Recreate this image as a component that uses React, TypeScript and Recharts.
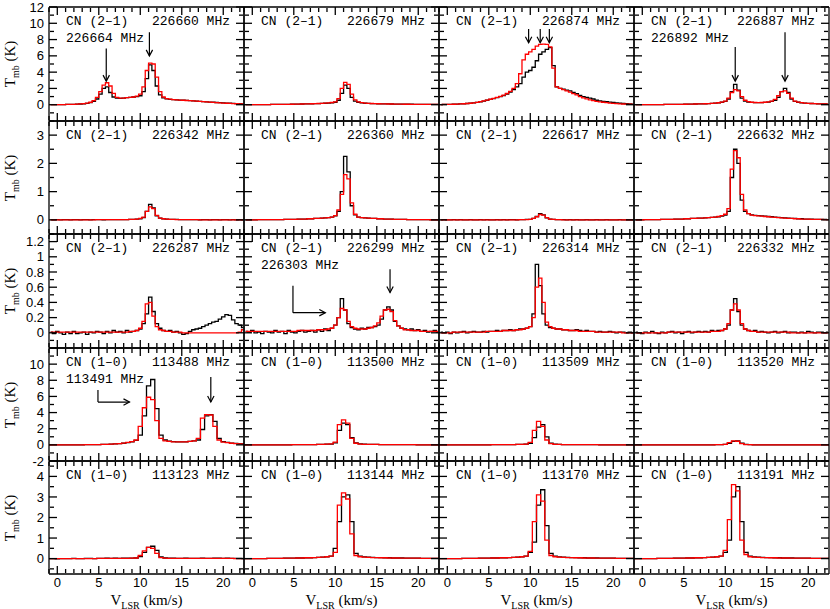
import React from 'react';
import { LineChart, Line, XAxis, YAxis, ReferenceLine } from 'recharts';

// velocity channels (km/s)
const V21 = [-0.8, -0.4, 0, 0.4, 0.8, 1.2, 1.6, 2, 2.4, 2.8, 3.2, 3.6, 4, 4.4, 4.8, 5.2, 5.6, 6, 6.4, 6.8, 7.2, 7.6, 8, 8.4, 8.8, 9.2, 9.6, 10, 10.4, 10.8, 11.2, 11.6, 12, 12.4, 12.8, 13.2, 13.6, 14, 14.4, 14.8, 15.2, 15.6, 16, 16.4, 16.8, 17.2, 17.6, 18, 18.4, 18.8, 19.2, 19.6, 20, 20.4, 20.8, 21.2, 21.6, 22, 22.4];
const V10 = [-1, -0.5, 0, 0.5, 1, 1.5, 2, 2.5, 3, 3.5, 4, 4.5, 5, 5.5, 6, 6.5, 7, 7.5, 8, 8.5, 9, 9.5, 10, 10.5, 11, 11.5, 12, 12.5, 13, 13.5, 14, 14.5, 15, 15.5, 16, 16.5, 17, 17.5, 18, 18.5, 19, 19.5, 20, 20.5, 21, 21.5, 22, 22.5];

// row 1
const P11_OBS = [0, 0, 0.01, 0.02, 0.02, 0.03, 0.04, 0.05, 0.07, 0.09, 0.12, 0.17, 0.25, 0.4, 0.7, 1.3, 2.0, 2.2, 1.5, 0.95, 0.8, 0.78, 0.82, 0.86, 0.9, 0.95, 1.0, 1.1, 1.6, 3.2, 4.9, 4.2, 2.3, 1.2, 0.85, 0.72, 0.66, 0.62, 0.6, 0.57, 0.55, 0.53, 0.5, 0.47, 0.44, 0.41, 0.38, 0.35, 0.32, 0.3, 0.27, 0.25, 0.22, 0.2, 0.18, 0.16, 0.14, 0.12, 0.1];
const P11_MOD = [0, 0, 0.01, 0.02, 0.02, 0.03, 0.04, 0.05, 0.07, 0.1, 0.14, 0.2, 0.3, 0.5, 0.9, 1.6, 2.4, 2.7, 2.3, 1.4, 0.9, 0.8, 0.82, 0.86, 0.9, 0.95, 1.05, 1.3, 2.2, 4.2, 5.1, 5.0, 3.4, 1.6, 0.95, 0.75, 0.68, 0.63, 0.6, 0.57, 0.55, 0.52, 0.49, 0.46, 0.43, 0.4, 0.37, 0.34, 0.31, 0.28, 0.25, 0.23, 0.2, 0.18, 0.16, 0.14, 0.12, 0.1, 0.09];
const P12_OBS = [0, 0, 0, 0.01, 0.01, 0.01, 0.02, 0.02, 0.03, 0.03, 0.04, 0.04, 0.05, 0.05, 0.06, 0.07, 0.08, 0.09, 0.1, 0.11, 0.12, 0.13, 0.14, 0.16, 0.18, 0.2, 0.24, 0.3, 0.55, 1.4, 2.4, 2.0, 0.9, 0.45, 0.3, 0.22, 0.18, 0.16, 0.14, 0.13, 0.12, 0.11, 0.1, 0.1, 0.09, 0.08, 0.08, 0.07, 0.07, 0.06, 0.06, 0.05, 0.05, 0.05, 0.04, 0.04, 0.04, 0.03, 0.03];
const P12_MOD = [0, 0, 0, 0.01, 0.01, 0.01, 0.02, 0.02, 0.03, 0.03, 0.04, 0.04, 0.05, 0.05, 0.06, 0.07, 0.08, 0.09, 0.1, 0.11, 0.12, 0.13, 0.15, 0.17, 0.19, 0.22, 0.27, 0.36, 0.75, 2.0, 2.75, 2.5, 1.3, 0.6, 0.35, 0.25, 0.2, 0.17, 0.15, 0.13, 0.12, 0.11, 0.1, 0.09, 0.09, 0.08, 0.07, 0.07, 0.06, 0.06, 0.05, 0.05, 0.05, 0.04, 0.04, 0.04, 0.03, 0.03, 0.03];
const P13_OBS = [0.02, 0.03, 0.04, 0.05, 0.06, 0.08, 0.1, 0.12, 0.15, 0.18, 0.22, 0.28, 0.36, 0.45, 0.55, 0.65, 0.75, 0.88, 1.0, 1.12, 1.3, 1.55, 1.85, 2.2, 2.6, 3.4, 4.0, 4.2, 4.6, 5.4, 6.2, 6.5, 6.8, 7.0, 4.8, 2.2, 2.0, 1.9, 1.8, 1.7, 1.5, 1.35, 1.15, 1.0, 0.9, 0.8, 0.7, 0.55, 0.48, 0.42, 0.37, 0.32, 0.27, 0.22, 0.18, 0.15, 0.12, 0.1, 0.08];
const P13_MOD = [0.02, 0.03, 0.04, 0.05, 0.06, 0.08, 0.1, 0.12, 0.15, 0.18, 0.23, 0.29, 0.37, 0.46, 0.56, 0.67, 0.78, 0.9, 1.03, 1.18, 1.38, 1.65, 2.0, 2.6, 3.8, 5.5, 6.2, 6.5, 6.8, 7.2, 7.4, 7.45, 7.4, 7.1, 4.5, 2.2, 2.0, 1.85, 1.7, 1.55, 1.35, 1.2, 1.0, 0.85, 0.72, 0.6, 0.5, 0.42, 0.35, 0.3, 0.25, 0.2, 0.17, 0.14, 0.11, 0.09, 0.07, 0.06, 0.05];
const P14_OBS = [0, 0, 0, 0.01, 0.01, 0.01, 0.02, 0.02, 0.02, 0.03, 0.03, 0.04, 0.04, 0.05, 0.05, 0.06, 0.07, 0.08, 0.09, 0.1, 0.11, 0.12, 0.14, 0.16, 0.19, 0.23, 0.3, 0.4, 0.7, 1.6, 2.5, 1.8, 0.8, 0.45, 0.33, 0.28, 0.26, 0.25, 0.26, 0.28, 0.32, 0.4, 0.55, 0.9, 1.6, 2.0, 1.5, 0.7, 0.4, 0.3, 0.24, 0.2, 0.17, 0.15, 0.13, 0.11, 0.1, 0.09, 0.08];
const P14_MOD = [0, 0, 0, 0.01, 0.01, 0.01, 0.02, 0.02, 0.02, 0.03, 0.03, 0.04, 0.04, 0.05, 0.05, 0.06, 0.07, 0.08, 0.09, 0.1, 0.11, 0.12, 0.14, 0.16, 0.19, 0.24, 0.32, 0.45, 0.8, 1.5, 1.85, 1.7, 1.0, 0.55, 0.38, 0.3, 0.27, 0.26, 0.27, 0.3, 0.35, 0.45, 0.65, 1.1, 1.6, 1.7, 1.4, 0.8, 0.45, 0.32, 0.25, 0.2, 0.17, 0.15, 0.13, 0.11, 0.1, 0.09, 0.08];

// row 2
const P21_OBS = [0.01, 0, 0.01, 0, 0.01, 0.01, 0, 0.01, 0.01, 0, 0.01, 0.01, 0, 0.01, 0.01, 0.01, 0, 0.01, 0.01, 0.01, 0.01, 0.01, 0.01, 0.01, 0.02, 0.02, 0.03, 0.04, 0.08, 0.3, 0.55, 0.42, 0.14, 0.06, 0.04, 0.03, 0.02, 0.02, 0.02, 0.01, 0.01, 0.01, 0.01, 0.01, 0.01, 0, 0.01, 0.01, 0, 0.01, 0.01, 0, 0.01, 0.01, 0, 0.01, 0, 0.01, 0];
const P21_MOD = [0, 0, 0, 0, 0, 0, 0, 0, 0, 0, 0, 0, 0, 0, 0.01, 0.01, 0.01, 0.01, 0.01, 0.01, 0.01, 0.01, 0.01, 0.01, 0.02, 0.02, 0.03, 0.05, 0.1, 0.3, 0.46, 0.4, 0.16, 0.06, 0.04, 0.03, 0.02, 0.02, 0.01, 0.01, 0.01, 0.01, 0.01, 0.01, 0.01, 0, 0, 0, 0, 0, 0, 0, 0, 0, 0, 0, 0, 0, 0];
const P22_OBS = [0, 0, 0, 0, 0.01, 0.01, 0.01, 0.01, 0.01, 0.01, 0.01, 0.01, 0.02, 0.02, 0.02, 0.02, 0.03, 0.03, 0.03, 0.04, 0.04, 0.05, 0.05, 0.06, 0.07, 0.08, 0.1, 0.14, 0.3, 1.0, 2.25, 1.7, 0.5, 0.18, 0.1, 0.08, 0.07, 0.06, 0.05, 0.05, 0.04, 0.04, 0.03, 0.03, 0.03, 0.02, 0.02, 0.02, 0.02, 0.01, 0.01, 0.01, 0.01, 0.01, 0.01, 0.01, 0, 0, 0];
const P22_MOD = [0, 0, 0, 0, 0.01, 0.01, 0.01, 0.01, 0.01, 0.01, 0.01, 0.01, 0.02, 0.02, 0.02, 0.02, 0.03, 0.03, 0.03, 0.04, 0.04, 0.05, 0.05, 0.06, 0.07, 0.08, 0.1, 0.15, 0.35, 0.9, 1.6, 1.45, 0.6, 0.2, 0.1, 0.08, 0.07, 0.06, 0.05, 0.05, 0.04, 0.04, 0.03, 0.03, 0.03, 0.02, 0.02, 0.02, 0.02, 0.01, 0.01, 0.01, 0.01, 0.01, 0.01, 0.01, 0, 0, 0];
const P23_OBS = [0, 0.01, 0, 0, 0.01, 0, 0.01, 0, 0, 0.01, 0, 0, 0.01, 0, 0.01, 0, 0, 0.01, 0, 0.01, 0, 0.01, 0.01, 0, 0.01, 0.01, 0.02, 0.02, 0.05, 0.12, 0.22, 0.18, 0.07, 0.03, 0.02, 0.01, 0.01, 0.01, 0, 0.01, 0, 0.01, 0, 0, 0.01, 0, 0, 0.01, 0, 0, 0.01, 0, 0, 0, 0.01, 0, 0, 0, 0];
const P23_MOD = [0, 0, 0, 0, 0, 0, 0, 0, 0, 0, 0, 0, 0, 0, 0, 0, 0, 0, 0, 0, 0, 0, 0, 0, 0.01, 0.01, 0.01, 0.02, 0.05, 0.11, 0.19, 0.17, 0.08, 0.03, 0.02, 0.01, 0.01, 0, 0, 0, 0, 0, 0, 0, 0, 0, 0, 0, 0, 0, 0, 0, 0, 0, 0, 0, 0, 0, 0];
const P24_OBS = [0, 0, 0, 0.01, 0.01, 0.01, 0.01, 0.01, 0.02, 0.02, 0.02, 0.02, 0.03, 0.03, 0.03, 0.04, 0.04, 0.05, 0.05, 0.06, 0.06, 0.07, 0.08, 0.09, 0.1, 0.11, 0.13, 0.17, 0.3, 1.5, 2.5, 2.0, 0.7, 0.3, 0.22, 0.18, 0.16, 0.15, 0.14, 0.13, 0.12, 0.11, 0.1, 0.09, 0.08, 0.07, 0.06, 0.05, 0.05, 0.04, 0.04, 0.03, 0.03, 0.03, 0.02, 0.02, 0.02, 0.02, 0.01];
const P24_MOD = [0, 0, 0, 0.01, 0.01, 0.01, 0.01, 0.01, 0.02, 0.02, 0.02, 0.02, 0.03, 0.03, 0.03, 0.04, 0.04, 0.05, 0.05, 0.06, 0.06, 0.07, 0.08, 0.09, 0.1, 0.12, 0.15, 0.2, 0.4, 1.8, 2.45, 2.2, 0.9, 0.35, 0.22, 0.17, 0.15, 0.14, 0.13, 0.12, 0.11, 0.1, 0.09, 0.08, 0.07, 0.06, 0.05, 0.05, 0.04, 0.04, 0.03, 0.03, 0.03, 0.02, 0.02, 0.02, 0.02, 0.01, 0.01];

// row 3
const P31_OBS = [0.01, -0.01, 0.02, 0, -0.02, 0.01, -0.01, 0.02, -0.01, 0, 0.01, -0.02, 0.01, 0, 0.02, 0.01, -0.01, 0.02, 0, 0.03, 0.01, 0.02, 0, 0.03, 0.01, 0.02, 0.03, 0.05, 0.12, 0.25, 0.47, 0.28, 0.12, 0.06, 0.03, 0.02, 0.03, 0.01, 0.02, 0, -0.02, -0.01, 0.02, 0.04, 0.05, 0.06, 0.08, 0.1, 0.12, 0.14, 0.15, 0.18, 0.21, 0.24, 0.23, 0.17, 0.12, 0.1, 0.07];
const P31_MOD = [0.01, 0.01, 0.01, 0.01, 0.01, 0.01, 0.01, 0.01, 0.01, 0.01, 0.01, 0.01, 0.01, 0.01, 0.01, 0.01, 0.01, 0.01, 0.01, 0.01, 0.01, 0.01, 0.01, 0.01, 0.02, 0.02, 0.03, 0.06, 0.15, 0.38, 0.4, 0.22, 0.08, 0.04, 0.03, 0.02, 0.02, 0.01, 0.01, 0.01, 0, 0, 0, 0, 0, 0, 0, 0, 0, 0, 0, 0, 0, 0, 0, 0, 0, 0.01, 0.04];
const P32_OBS = [0.02, 0.01, 0.03, 0, 0.01, -0.01, 0.02, 0.01, 0, 0.03, 0.01, 0.02, -0.01, 0.03, 0.01, 0, 0.02, 0.03, 0.01, 0.02, 0.03, 0.01, 0.04, 0.02, 0.05, 0.03, 0.06, 0.1, 0.2, 0.45, 0.3, 0.12, 0.07, 0.05, 0.04, 0.06, 0.05, 0.07, 0.07, 0.08, 0.1, 0.18, 0.3, 0.34, 0.3, 0.15, 0.09, 0.06, 0.05, 0.04, 0.05, 0.03, 0.04, 0.02, 0.03, 0.01, 0.02, 0.03, 0.01];
const P32_MOD = [0.02, 0.02, 0.02, 0.02, 0.02, 0.02, 0.02, 0.02, 0.02, 0.02, 0.02, 0.02, 0.02, 0.02, 0.02, 0.02, 0.03, 0.03, 0.03, 0.03, 0.03, 0.03, 0.04, 0.04, 0.04, 0.05, 0.06, 0.1, 0.2, 0.32, 0.3, 0.15, 0.08, 0.06, 0.05, 0.05, 0.05, 0.06, 0.07, 0.09, 0.13, 0.22, 0.3, 0.31, 0.28, 0.16, 0.09, 0.06, 0.04, 0.04, 0.03, 0.03, 0.03, 0.02, 0.02, 0.02, 0.02, 0.02, 0.02];
const P33_OBS = [0.01, 0, 0.01, -0.01, 0.01, 0, 0.01, 0.02, 0, 0.01, 0.02, 0.01, 0.01, 0.02, 0.01, 0.02, 0.02, 0.03, 0.02, 0.03, 0.03, 0.04, 0.03, 0.04, 0.05, 0.05, 0.06, 0.08, 0.25, 0.9, 0.62, 0.25, 0.1, 0.07, 0.06, 0.05, 0.05, 0.04, 0.04, 0.03, 0.03, 0.04, 0.03, 0.02, 0.03, 0.02, 0.02, 0.01, 0.02, 0.01, 0.01, 0.02, 0.01, 0, 0.01, 0.01, 0, 0.01, 0];
const P33_MOD = [0, 0, 0, 0, 0.01, 0.01, 0.01, 0.01, 0.01, 0.01, 0.01, 0.01, 0.01, 0.01, 0.02, 0.02, 0.02, 0.02, 0.02, 0.03, 0.03, 0.03, 0.03, 0.04, 0.04, 0.05, 0.06, 0.08, 0.2, 0.6, 0.72, 0.4, 0.14, 0.08, 0.06, 0.05, 0.05, 0.04, 0.04, 0.03, 0.03, 0.03, 0.02, 0.02, 0.02, 0.02, 0.02, 0.01, 0.01, 0.01, 0.01, 0.01, 0.01, 0.01, 0.01, 0, 0, 0, 0];
const P34_OBS = [0.01, 0, -0.01, 0.01, 0, 0.02, 0, -0.01, 0.01, 0, 0.01, 0.02, 0, 0.01, -0.01, 0.01, 0.02, 0, 0.01, 0.02, 0.01, 0.02, 0.01, 0.03, 0.02, 0.03, 0.03, 0.05, 0.1, 0.3, 0.45, 0.28, 0.1, 0.05, 0.03, 0.02, 0.03, 0.01, 0.02, 0.01, 0, 0.01, 0.02, 0, 0.01, 0.02, 0, 0.01, 0.01, 0, 0.01, 0, 0.02, 0.01, 0, 0.01, 0.01, 0, 0.01];
const P34_MOD = [0, 0, 0, 0, 0, 0, 0, 0, 0, 0, 0.01, 0.01, 0.01, 0.01, 0.01, 0.01, 0.01, 0.01, 0.01, 0.01, 0.01, 0.01, 0.01, 0.02, 0.02, 0.02, 0.03, 0.05, 0.12, 0.3, 0.38, 0.3, 0.12, 0.05, 0.03, 0.02, 0.02, 0.01, 0.01, 0.01, 0.01, 0.01, 0.01, 0.01, 0.01, 0.01, 0.01, 0, 0, 0, 0, 0, 0, 0, 0, 0, 0, 0, 0];

// row 4
const P41_OBS = [0, 0, 0, 0, 0, 0, 0.01, 0.01, 0.01, 0.02, 0.02, 0.03, 0.04, 0.05, 0.07, 0.09, 0.12, 0.16, 0.2, 0.28, 0.38, 0.55, 1.2, 3.6, 7.3, 8.1, 4.5, 1.2, 0.6, 0.45, 0.4, 0.38, 0.37, 0.38, 0.42, 0.5, 0.6, 1.9, 3.6, 3.75, 2.9, 0.8, 0.4, 0.3, 0.22, 0.18, 0.15, 0.12];
const P41_MOD = [0, 0, 0, 0, 0, 0, 0.01, 0.01, 0.01, 0.02, 0.02, 0.03, 0.04, 0.05, 0.07, 0.09, 0.12, 0.16, 0.22, 0.3, 0.4, 0.6, 2.3, 4.6, 5.9, 5.6, 3.0, 0.8, 0.5, 0.42, 0.38, 0.36, 0.36, 0.38, 0.42, 0.5, 0.8, 3.3, 3.75, 3.7, 2.3, 0.6, 0.35, 0.28, 0.2, 0.16, 0.13, 0.1];
const P42_OBS = [0, 0, 0, 0, 0, 0, 0, 0.01, 0.01, 0.01, 0.01, 0.01, 0.02, 0.02, 0.02, 0.03, 0.03, 0.04, 0.05, 0.06, 0.08, 0.1, 0.25, 1.8, 2.7, 2.5, 0.9, 0.25, 0.12, 0.08, 0.06, 0.05, 0.05, 0.04, 0.04, 0.03, 0.03, 0.03, 0.02, 0.02, 0.02, 0.02, 0.01, 0.01, 0.01, 0.01, 0.01, 0.01];
const P42_MOD = [0, 0, 0, 0, 0, 0, 0, 0.01, 0.01, 0.01, 0.01, 0.01, 0.02, 0.02, 0.02, 0.03, 0.03, 0.04, 0.05, 0.06, 0.08, 0.12, 0.35, 2.5, 3.1, 2.7, 0.8, 0.2, 0.1, 0.07, 0.06, 0.05, 0.05, 0.04, 0.04, 0.03, 0.03, 0.03, 0.02, 0.02, 0.02, 0.02, 0.01, 0.01, 0.01, 0.01, 0.01, 0.01];
const P43_OBS = [0, 0, 0, 0, 0, 0, 0, 0, 0.01, 0.01, 0.01, 0.01, 0.01, 0.02, 0.02, 0.02, 0.03, 0.03, 0.04, 0.05, 0.06, 0.08, 0.2, 0.9, 2.2, 2.5, 1.0, 0.2, 0.08, 0.05, 0.04, 0.04, 0.03, 0.03, 0.03, 0.02, 0.02, 0.02, 0.02, 0.01, 0.01, 0.01, 0.01, 0.01, 0.01, 0, 0, 0];
const P43_MOD = [0, 0, 0, 0, 0, 0, 0, 0, 0.01, 0.01, 0.01, 0.01, 0.01, 0.02, 0.02, 0.02, 0.03, 0.03, 0.04, 0.05, 0.06, 0.09, 0.3, 1.8, 2.9, 2.3, 0.6, 0.15, 0.07, 0.05, 0.04, 0.04, 0.03, 0.03, 0.03, 0.02, 0.02, 0.02, 0.02, 0.01, 0.01, 0.01, 0.01, 0.01, 0.01, 0, 0, 0];
const P44_OBS = [0, 0, 0, 0, 0, 0, 0, 0, 0, 0, 0, 0, 0, 0, 0, 0, 0.01, 0.01, 0.01, 0.01, 0.02, 0.02, 0.05, 0.2, 0.42, 0.5, 0.22, 0.05, 0.02, 0.01, 0.01, 0.01, 0.01, 0, 0, 0, 0, 0, 0, 0, 0, 0, 0, 0, 0, 0, 0, 0];
const P44_MOD = [0, 0, 0, 0, 0, 0, 0, 0, 0, 0, 0, 0, 0, 0, 0, 0, 0.01, 0.01, 0.01, 0.01, 0.02, 0.02, 0.06, 0.28, 0.5, 0.45, 0.15, 0.04, 0.02, 0.01, 0.01, 0.01, 0.01, 0, 0, 0, 0, 0, 0, 0, 0, 0, 0, 0, 0, 0, 0, 0];

// row 5
const P51_OBS = [0, 0, -0.01, 0, 0, 0, 0.01, 0, 0, 0.01, 0.01, 0, 0.01, 0.01, 0.02, 0.01, 0.02, 0.01, 0.02, 0.02, 0.02, 0.03, 0.1, 0.3, 0.55, 0.6, 0.4, 0.08, 0.03, 0.02, 0.02, 0.01, 0.01, 0.02, 0.01, 0.01, 0.01, 0.02, 0.01, 0.01, 0.02, 0.02, 0.01, 0.02, 0.01, 0.01, 0.01, 0];
const P51_MOD = [0, 0, 0, 0, 0, 0, 0, 0, 0, 0, 0, 0, 0.01, 0.01, 0.01, 0.01, 0.01, 0.01, 0.01, 0.01, 0.02, 0.03, 0.15, 0.38, 0.55, 0.5, 0.25, 0.05, 0.02, 0.01, 0.01, 0.01, 0.01, 0.01, 0.01, 0.01, 0.01, 0.01, 0.01, 0.01, 0.01, 0.01, 0.01, 0.01, 0.01, 0, 0, 0];
const P52_OBS = [0, 0, 0, 0, 0, 0, 0.01, 0.01, 0.01, 0.01, 0.02, 0.02, 0.02, 0.03, 0.03, 0.04, 0.04, 0.05, 0.06, 0.07, 0.09, 0.12, 0.5, 1.8, 3.0, 3.1, 1.8, 0.25, 0.12, 0.08, 0.07, 0.06, 0.05, 0.05, 0.04, 0.04, 0.03, 0.03, 0.03, 0.02, 0.02, 0.02, 0.02, 0.01, 0.01, 0.01, 0.01, 0.01];
const P52_MOD = [0, 0, 0, 0, 0, 0, 0.01, 0.01, 0.01, 0.01, 0.02, 0.02, 0.02, 0.03, 0.03, 0.04, 0.04, 0.05, 0.06, 0.07, 0.09, 0.12, 0.3, 2.6, 3.2, 2.9, 1.2, 0.15, 0.09, 0.07, 0.06, 0.05, 0.05, 0.04, 0.04, 0.03, 0.03, 0.03, 0.02, 0.02, 0.02, 0.02, 0.02, 0.01, 0.01, 0.01, 0.01, 0.01];
const P53_OBS = [0, 0, 0, 0, 0, 0, 0.01, 0.01, 0.01, 0.01, 0.02, 0.02, 0.02, 0.03, 0.03, 0.04, 0.04, 0.05, 0.06, 0.07, 0.09, 0.12, 0.3, 0.8, 2.6, 3.35, 1.6, 0.25, 0.12, 0.08, 0.07, 0.06, 0.05, 0.05, 0.04, 0.04, 0.03, 0.03, 0.03, 0.02, 0.02, 0.02, 0.02, 0.01, 0.01, 0.01, 0.01, 0.01];
const P53_MOD = [0, 0, 0, 0, 0, 0, 0.01, 0.01, 0.01, 0.01, 0.02, 0.02, 0.02, 0.03, 0.03, 0.04, 0.04, 0.05, 0.06, 0.07, 0.09, 0.12, 0.35, 1.8, 3.1, 2.8, 0.9, 0.15, 0.09, 0.07, 0.06, 0.05, 0.05, 0.04, 0.04, 0.03, 0.03, 0.03, 0.02, 0.02, 0.02, 0.02, 0.02, 0.01, 0.01, 0.01, 0.01, 0.01];
const P54_OBS = [0, 0, 0, 0, 0, 0, 0.01, 0.01, 0.01, 0.01, 0.02, 0.02, 0.02, 0.03, 0.03, 0.04, 0.04, 0.05, 0.06, 0.07, 0.09, 0.12, 0.3, 0.9, 3.0, 3.5, 1.8, 0.3, 0.12, 0.08, 0.07, 0.06, 0.05, 0.05, 0.04, 0.04, 0.03, 0.03, 0.03, 0.02, 0.02, 0.02, 0.02, 0.01, 0.01, 0.01, 0.01, 0.01];
const P54_MOD = [0, 0, 0, 0, 0, 0, 0.01, 0.01, 0.01, 0.01, 0.02, 0.02, 0.02, 0.03, 0.03, 0.04, 0.04, 0.05, 0.06, 0.07, 0.09, 0.12, 0.4, 1.9, 3.6, 3.3, 0.9, 0.2, 0.09, 0.07, 0.06, 0.05, 0.05, 0.04, 0.04, 0.03, 0.03, 0.03, 0.02, 0.02, 0.02, 0.02, 0.02, 0.01, 0.01, 0.01, 0.01, 0.01];

const LINES = ['CN (2–1)', 'CN (2–1)', 'CN (2–1)', 'CN (1–0)', 'CN (1–0)'];
const FREQS = [
  '226660 MHz', '226679 MHz', '226874 MHz', '226887 MHz',
  '226342 MHz', '226360 MHz', '226617 MHz', '226632 MHz',
  '226287 MHz', '226299 MHz', '226314 MHz', '226332 MHz',
  '113488 MHz', '113500 MHz', '113509 MHz', '113520 MHz',
  '113123 MHz', '113144 MHz', '113170 MHz', '113191 MHz',
];
// second label line, by panel index
const EXTRA: Record<number, string> = { 0: '226664 MHz', 3: '226892 MHz', 9: '226303 MHz', 12: '113491 MHz' };

// arrows [x1, y1, x2, y2, head] in km/s and K
const ARROWS: Record<number, [number, number, number, number, boolean][]> = {
  0: [[5.9, 6.9, 5.9, 2.9, true], [11.1, 8.9, 11.1, 6.0, true]],
  2: [[9.8, 9.3, 9.8, 7.6, true], [11.2, 9.3, 11.2, 7.6, true], [12.3, 9.3, 12.3, 7.6, true]],
  3: [[11.2, 7.1, 11.2, 2.9, true], [17.2, 8.9, 17.2, 2.9, true]],
  9: [[4.9, 0.62, 4.9, 0.265, false], [4.9, 0.265, 8.8, 0.265, true], [16.6, 0.835, 16.6, 0.53, true]],
  12: [[4.9, 6.8, 4.9, 5.3, false], [4.9, 5.3, 8.7, 5.3, true], [18.5, 8.4, 18.5, 5.3, true]],
};

const X_DOMAIN = [-1, 22.5];
const X_MAJOR = [0, 5, 10, 15, 20];
const X_MINOR = [-1, 1, 2, 3, 4, 6, 7, 8, 9, 11, 12, 13, 14, 16, 17, 18, 19, 21, 22];
const Y_DOMAINS = [[-2, 12], [-0.5, 3.5], [-0.2, 1.3], [-2, 12], [-0.75, 4.75]];
const Y_MAJOR = [[0, 2, 4, 6, 8, 10, 12], [0, 1, 2, 3], [0, 0.2, 0.4, 0.6, 0.8, 1, 1.2], [-2, 0, 2, 4, 6, 8, 10, 12], [0, 1, 2, 3, 4]];
const Y_MINOR = [[-1, 1, 3, 5, 7, 9, 11], [-0.5, 0.5, 1.5, 2.5, 3.5], [-0.1, 0.1, 0.3, 0.5, 0.7, 0.9, 1.1, 1.3], [-1, 1, 3, 5, 7, 9, 11], [-0.5, 0.5, 1.5, 2.5, 3.5, 4.5]];
const Y_LABELS = [[0, 2, 4, 6, 8, 10, 12], [0, 1, 2, 3], [0, 0.2, 0.4, 0.6, 0.8, 1, 1.2], [-2, 0, 2, 4, 6, 8, 10], [0, 1, 2, 3, 4]];

const PANELS = [
  [P11_OBS, P11_MOD], [P12_OBS, P12_MOD], [P13_OBS, P13_MOD], [P14_OBS, P14_MOD],
  [P21_OBS, P21_MOD], [P22_OBS, P22_MOD], [P23_OBS, P23_MOD], [P24_OBS, P24_MOD],
  [P31_OBS, P31_MOD], [P32_OBS, P32_MOD], [P33_OBS, P33_MOD], [P34_OBS, P34_MOD],
  [P41_OBS, P41_MOD], [P42_OBS, P42_MOD], [P43_OBS, P43_MOD], [P44_OBS, P44_MOD],
  [P51_OBS, P51_MOD], [P52_OBS, P52_MOD], [P53_OBS, P53_MOD], [P54_OBS, P54_MOD],
];

const COL_LEFT = [49, 244, 439, 634];
const ROW_TOP = [7, 121, 234, 348, 461];
const ROW_H = [114, 113, 114, 113, 113];
const PW = 195;
const LABEL_W = 49;
const LABEL_H = 30;

const AX = { stroke: '#000', strokeWidth: 1.3 };
const TICK_FONT = { fill: '#000', fontSize: 13, fontFamily: '"Liberation Sans", Arial, sans-serif' };
const NoTick = () => <g />;
const MONO: React.CSSProperties = {
  position: 'absolute', fontFamily: '"Liberation Mono", "DejaVu Sans Mono", monospace',
  fontSize: 13, lineHeight: '16px', color: '#000', whiteSpace: 'nowrap',
};

const arrowShape = (head: boolean) => (p: any) => {
  const { x1, y1, x2, y2 } = p;
  const a = Math.atan2(y2 - y1, x2 - x1);
  const L = 6;
  const W = 3.2;
  const bx = x2 - L * Math.cos(a);
  const by = y2 - L * Math.sin(a);
  const px = -Math.sin(a) * W;
  const py = Math.cos(a) * W;
  return (
    <g>
      <line x1={x1} y1={y1} x2={x2} y2={y2} stroke="#000" strokeWidth={1.2} />
      {head && <path d={`M${bx + px},${by + py}L${x2},${y2}L${bx - px},${by - py}`} fill="none" stroke="#000" strokeWidth={1.2} />}
    </g>
  );
};

function Panel({ r, c }: { r: number; c: number }) {
  const i = r * 4 + c;
  const [obs, mod] = PANELS[i];
  const grid = r < 3 ? V21 : V10;
  const data = grid.map((v, k) => ({ v, o: obs[k], m: mod[k] }));
  const isLeft = c === 0;
  const isBottom = r === 4;
  const yd = Y_DOMAINS[r];
  const xa = { type: 'number' as const, dataKey: 'v', domain: X_DOMAIN, allowDataOverflow: true, interval: 0 as const };
  const ya = { type: 'number' as const, domain: yd, allowDataOverflow: true, interval: 0 as const };
  const xm = { ...xa, mirror: true, height: 1, tick: NoTick };
  const ym = { ...ya, mirror: true, width: 1, tick: NoTick };
  const off = isLeft ? LABEL_W : 0;
  return (
    <div style={{ position: 'absolute', left: isLeft ? 0 : COL_LEFT[c], top: ROW_TOP[r] }}>
      <LineChart width={PW + off} height={ROW_H[r] + (isBottom ? LABEL_H : 0)} data={data}
        margin={{ top: 0, right: 0, bottom: 0, left: 0 }}>
        <XAxis xAxisId="b" {...xm} ticks={X_MAJOR} orientation="bottom" tickSize={8} axisLine={AX} tickLine={AX} />
        <XAxis xAxisId="bm" {...xm} ticks={X_MINOR} orientation="bottom" tickSize={4} axisLine={false} tickLine={AX} />
        <XAxis xAxisId="t" {...xm} ticks={X_MAJOR} orientation="top" tickSize={8} axisLine={AX} tickLine={AX} />
        <XAxis xAxisId="tm" {...xm} ticks={X_MINOR} orientation="top" tickSize={4} axisLine={false} tickLine={AX} />
        {isBottom && (
          <XAxis xAxisId="lbl" {...xa} ticks={X_MAJOR} orientation="bottom" height={LABEL_H} tickSize={0} tickMargin={4}
            axisLine={false} tickLine={false} tick={TICK_FONT} />
        )}
        <YAxis yAxisId="l" {...ym} ticks={Y_MAJOR[r]} orientation="left" tickSize={8} axisLine={AX} tickLine={AX} />
        <YAxis yAxisId="lm" {...ym} ticks={Y_MINOR[r]} orientation="left" tickSize={4} axisLine={false} tickLine={AX} />
        <YAxis yAxisId="r" {...ym} ticks={Y_MAJOR[r]} orientation="right" tickSize={8} axisLine={AX} tickLine={AX} />
        <YAxis yAxisId="rm" {...ym} ticks={Y_MINOR[r]} orientation="right" tickSize={4} axisLine={false} tickLine={AX} />
        {isLeft && (
          <YAxis yAxisId="lbl" {...ya} ticks={Y_LABELS[r]} orientation="left" width={LABEL_W} tickSize={0} tickMargin={5}
            axisLine={false} tickLine={false} tick={TICK_FONT} />
        )}
        <Line xAxisId="b" yAxisId="l" dataKey="o" type="step" stroke="#000" strokeWidth={1.3} dot={false} isAnimationActive={false} />
        <Line xAxisId="b" yAxisId="l" dataKey="m" type="step" stroke="#ff0000" strokeWidth={1.3} dot={false} isAnimationActive={false} />
        {(ARROWS[i] || []).map((a, k) => (
          <ReferenceLine key={k} xAxisId="b" yAxisId="l" ifOverflow="visible"
            segment={[{ x: a[0], y: a[1] }, { x: a[2], y: a[3] }]} shape={arrowShape(a[4])} />
        ))}
      </LineChart>
      <div style={{ ...MONO, left: off + 17, top: 7 }}>{LINES[r]}</div>
      <div style={{ ...MONO, left: off + 103, top: 7 }}>{FREQS[i]}</div>
      {EXTRA[i] && <div style={{ ...MONO, left: off + 17, top: 24 }}>{EXTRA[i]}</div>}
    </div>
  );
}

export default function App() {
  const serif = '"Liberation Serif", "Times New Roman", serif';
  return (
    <div style={{ position: 'absolute', left: 0, top: 0, width: 830, height: 609, background: '#fff', overflow: 'hidden' }}>
      <style>{'.recharts-surface{overflow:visible}'}</style>
      {[0, 1, 2, 3, 4].map((r) => [0, 1, 2, 3].map((c) => <Panel key={`${r}-${c}`} r={r} c={c} />))}
      {ROW_TOP.map((t, r) => (
        <div key={`y${r}`} style={{
          position: 'absolute', left: 11, top: t + ROW_H[r] / 2, transform: 'translate(-50%, -50%) rotate(-90deg)',
          fontFamily: serif, fontSize: 15, whiteSpace: 'nowrap', color: '#000',
        }}>
          T<sub style={{ fontSize: 10 }}>mb</sub> (K)
        </div>
      ))}
      {COL_LEFT.map((l, c) => (
        <div key={`x${c}`} style={{
          position: 'absolute', left: l + PW / 2, top: 601, transform: 'translate(-50%, -50%)',
          fontFamily: serif, fontSize: 15, whiteSpace: 'nowrap', color: '#000',
        }}>
          V<sub style={{ fontSize: 10 }}>LSR</sub> (km/s)
        </div>
      ))}
    </div>
  );
}
